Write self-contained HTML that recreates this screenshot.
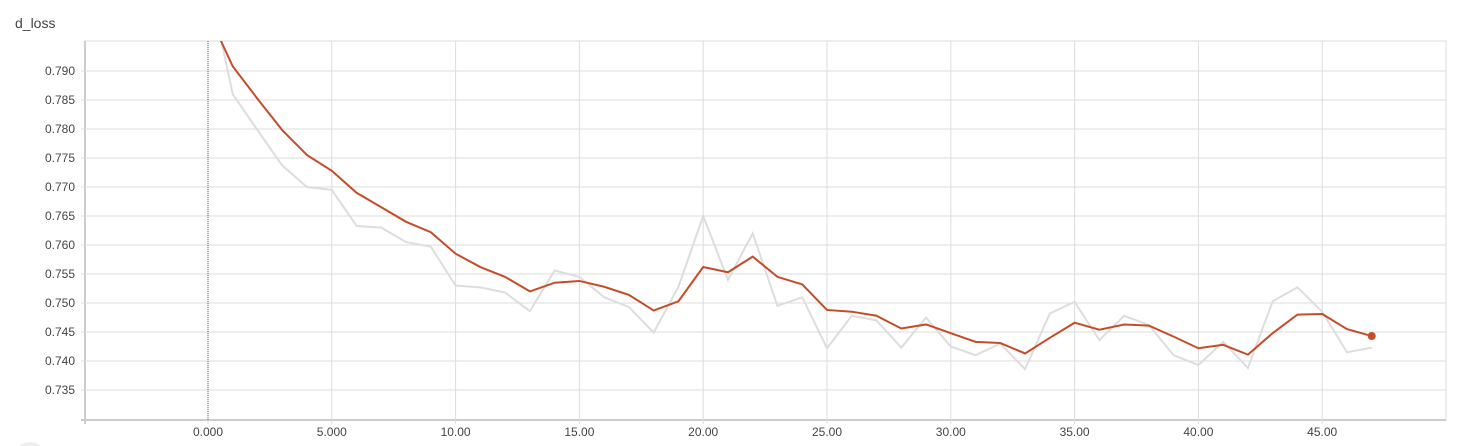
<!DOCTYPE html>
<html><head><meta charset="utf-8"><style>
html,body{margin:0;background:#fff;width:1462px;height:446px;overflow:hidden;font-family:"Liberation Sans",sans-serif}
svg{display:block}
svg text{font-family:"Liberation Sans",sans-serif;fill:#444}
</style></head><body>
<svg id="chart" width="1462" height="446">
<text x="15" y="28" font-size="14" fill="#333">d_loss</text>
<path d="M19.4,446 A16,16 0 0 1 40.6,446 Z" fill="#eee"/>
<g id="grid"></g><g id="series"></g>
</svg>
<script>
const steps=[...Array(48).keys()];
const smoothed=[0.800,0.7908,0.7852,0.7798,0.7755,0.7728,0.769,0.7665,0.764,0.7622,0.7585,0.7562,0.7545,0.752,0.7535,0.7538,0.7528,0.7514,0.7487,0.7503,0.7562,0.7553,0.758,0.7545,0.7532,0.7488,0.7485,0.7478,0.7456,0.7463,0.7448,0.7433,0.7431,0.7413,0.744,0.7466,0.7454,0.7463,0.7461,0.7442,0.7422,0.7428,0.7411,0.7448,0.748,0.7481,0.7455,0.7443];
const raw=[0.806,0.786,0.7798,0.7737,0.770,0.7695,0.7633,0.763,0.7605,0.7597,0.753,0.7527,0.7518,0.7486,0.7556,0.7545,0.751,0.7493,0.7449,0.7528,0.765,0.754,0.762,0.7495,0.751,0.7422,0.7478,0.747,0.7423,0.7475,0.7425,0.741,0.743,0.7386,0.7482,0.7502,0.7436,0.7478,0.7462,0.741,0.7393,0.7433,0.7388,0.7503,0.7527,0.7485,0.7415,0.7423];
const yTicks=[0.735,0.740,0.745,0.750,0.755,0.760,0.765,0.770,0.775,0.780,0.785,0.790];
const xTicks=[0,5,10,15,20,25,30,35,40,45];
const xTickLabels=["0.000","5.000","10.00","15.00","20.00","25.00","30.00","35.00","40.00","45.00"];
const L=85,R=1446,T=41,B=420;
const X=v=>208+v*24.76;
const Y=v=>71+(0.790-v)*5800;
const NS="http://www.w3.org/2000/svg";
function mk(tag,attrs,parent){const e=document.createElementNS(NS,tag);for(const k in attrs)e.setAttribute(k,attrs[k]);parent.appendChild(e);return e;}
const g=document.getElementById('grid'),s=document.getElementById('series');
let f=mk('rect',{x:L,y:T,width:R-L,height:B-T,fill:'none',stroke:'#ddd','stroke-width':1},g);


mk('line',{x1:L,y1:T,x2:L,y2:B+4,stroke:'#ccc','stroke-width':2},g);
mk('line',{x1:L-4,y1:B,x2:R,y2:B,stroke:'#ccc','stroke-width':2},g);
yTicks.forEach(v=>{
 let l=mk('line',{x1:L-4,y1:Y(v),x2:R,y2:Y(v),stroke:'#ddd','stroke-width':1},g);
 
 
 let t=mk('text',{x:L-10,y:Y(v)+4,'text-anchor':'end','font-size':12},g);
 t.textContent=v.toFixed(3);
 
 
});
xTicks.forEach((v,i)=>{
 let l=mk('line',{x1:X(v),y1:T,x2:X(v),y2:B+4,stroke:'#ddd','stroke-width':1},g);
 
 
 let t=mk('text',{x:X(v),y:B+16,'text-anchor':'middle','font-size':12},g);
 t.textContent=xTickLabels[i];
 
 
});
let z=mk('line',{x1:X(0),y1:T,x2:X(0),y2:Y(0.780),stroke:'#b04040','stroke-width':1,'stroke-dasharray':'1,1'},g);


let z2=mk('line',{x1:X(0),y1:Y(0.780),x2:X(0),y2:B,stroke:'#705a80','stroke-width':1,'stroke-dasharray':'1,1'},g);


const cp=mk('clipPath',{id:'clip'},s);mk('rect',{x:L,y:T,width:R-L,height:B-T},cp);
const pts=a=>a.map((v,i)=>X(steps[i])+','+Y(v)).join(' ');
let rl=mk('polyline',{points:pts(raw),fill:'none',stroke:'#ddd','stroke-width':2,'clip-path':'url(#clip)'},s);


let sl=mk('polyline',{points:pts(smoothed),fill:'none',stroke:'#c44d28','stroke-width':2,'clip-path':'url(#clip)'},s);


const n=smoothed.length-1;
let d=mk('circle',{cx:X(steps[n]),cy:Y(smoothed[n]),r:4,fill:'#c44d28'},s);


</script>
</body></html>
